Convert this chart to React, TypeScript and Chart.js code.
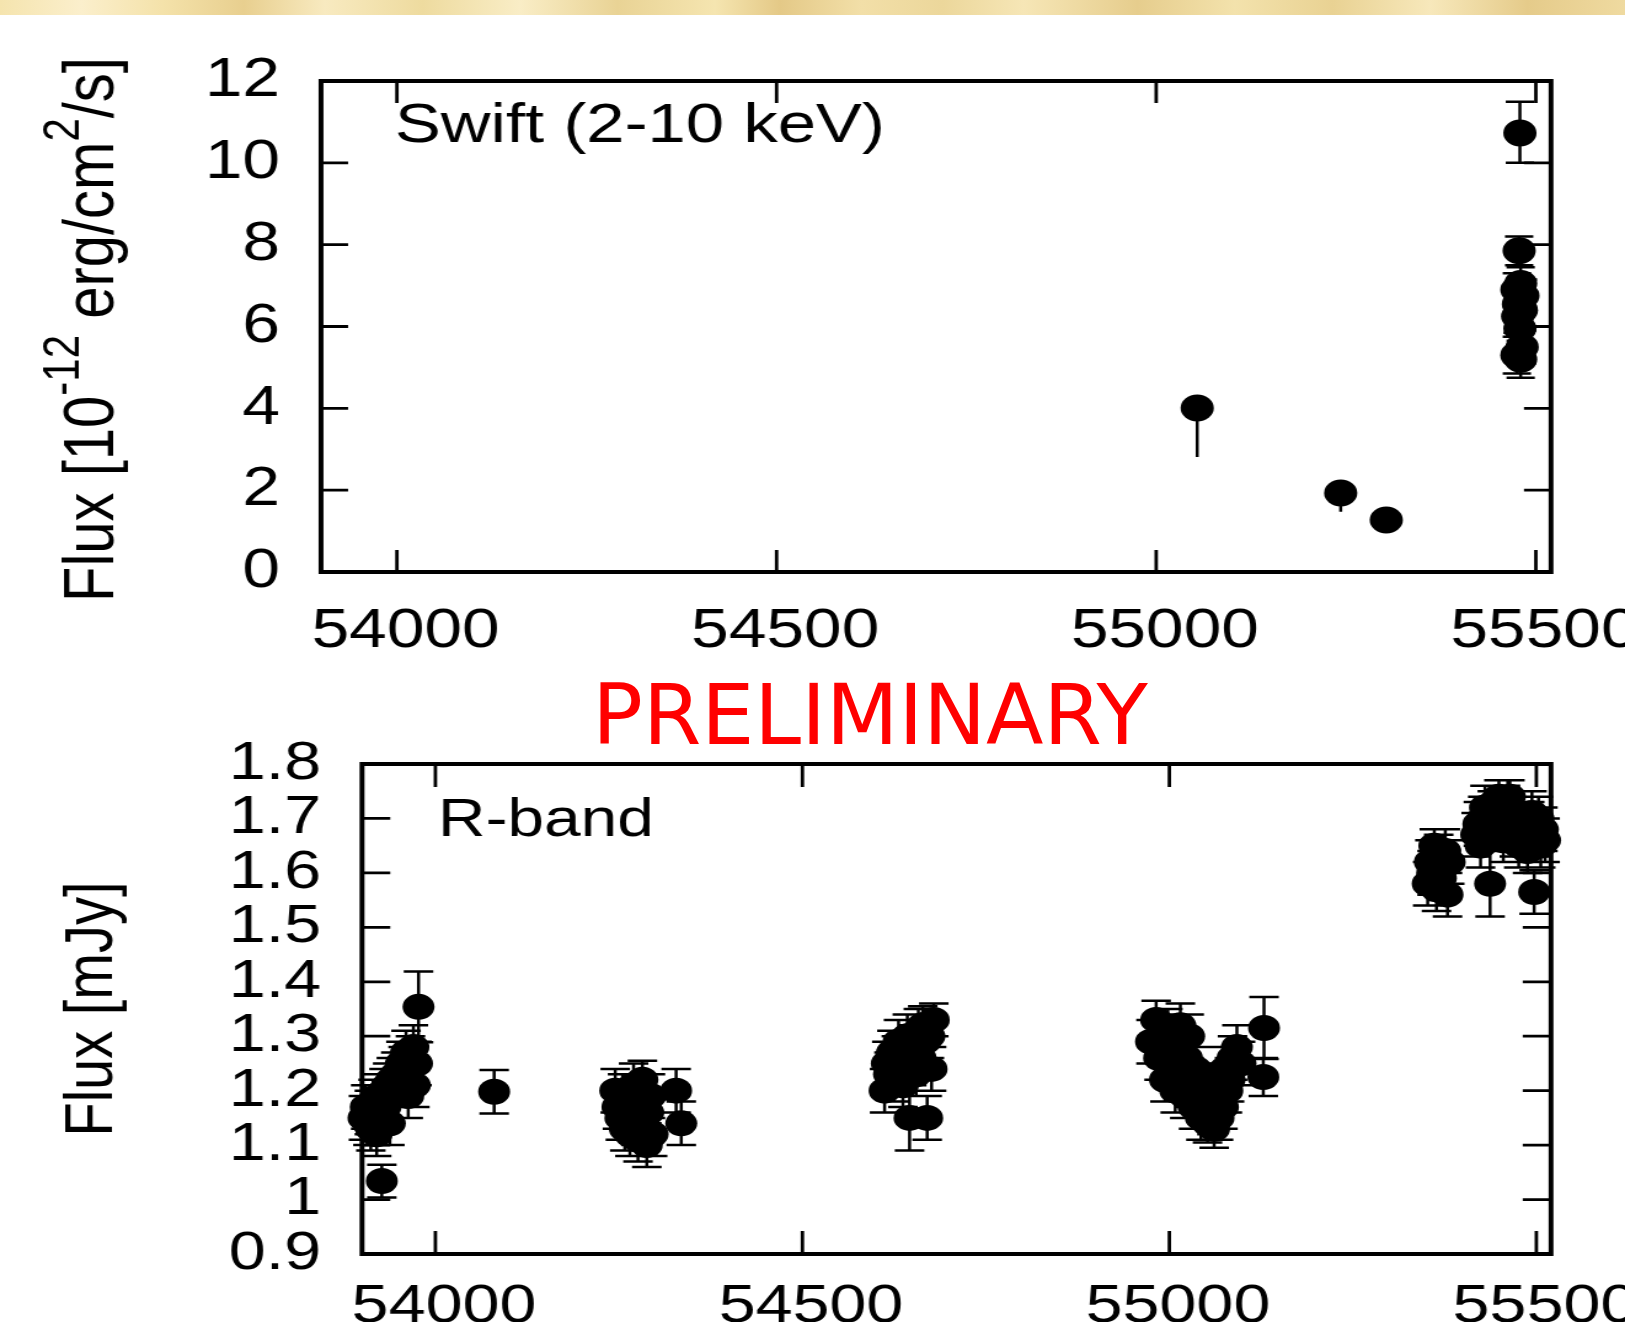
import React, { useEffect, useRef } from "react";
import { Chart, registerables } from "chart.js";

Chart.register(...registerables);

// ---------------- data ----------------
const xMin = 53900;
const xMax = 55520;
const xTickValues = [54000, 54500, 55000, 55500];
const xTickLabels = ["54000", "54500", "55000", "55500"];

const swiftYTickValues = [0, 2, 4, 6, 8, 10, 12];
const swiftYTickLabels = ["0", "2", "4", "6", "8", "10", "12"];

const rYTickValues = [0.9, 1, 1.1, 1.2, 1.3, 1.4, 1.5, 1.6, 1.7, 1.8];
const rYTickLabels = ["0.9", "1", "1.1", "1.2", "1.3", "1.4", "1.5", "1.6", "1.7", "1.8"];

// Swift (2-10 keV) flux, 1e-12 erg/cm2/s
const swiftMjd = [55054, 55243, 55303, 55479, 55478, 55480, 55475, 55483, 55477, 55481, 55476, 55479, 55482, 55475, 55480];
const swiftFlux = [4.01, 1.93, 1.27, 10.73, 7.85, 7.05, 6.9, 6.75, 6.55, 6.4, 6.25, 5.95, 5.5, 5.3, 5.2];
const swiftErrLo = [1.2, 0.46, 0, 0.73, 0.35, 0.4, 0.4, 0.4, 0.4, 0.4, 0.4, 0.4, 0.4, 0.45, 0.45];
const swiftErrHi = [0, 0, 0, 0.76, 0.35, 0.4, 0.4, 0.4, 0.4, 0.4, 0.4, 0.4, 0.4, 0.45, 0.45];

// R-band flux, mJy
const rMjd = [
  53902, 53905, 53908, 53910, 53912, 53915, 53918, 53920, 53922, 53925, 53927, 53930, 53932, 53935,
  53938, 53940, 53943, 53946, 53950, 53953, 53956, 53960, 53963, 53966, 53970, 53972, 53975, 53977,
  54080,
  54245, 54248, 54252, 54255, 54258, 54262, 54265, 54268, 54270, 54273, 54276, 54279, 54282, 54285,
  54288, 54290, 54293, 54296, 54328, 54335,
  54612, 54615, 54618, 54622, 54625, 54628, 54631, 54634, 54637, 54640, 54643, 54646, 54649, 54652,
  54655, 54658, 54661, 54664, 54667, 54670, 54673, 54676, 54679,
  54975, 54982, 54986, 54990, 54994, 54998, 55002, 55005, 55008, 55012, 55015, 55018, 55021, 55024,
  55027, 55030, 55033, 55036, 55040, 55043, 55046, 55049, 55052, 55055, 55058, 55061, 55064, 55067,
  55070, 55073, 55076, 55079, 55082, 55086, 55092, 55097, 55129, 55128,
  55352, 55355, 55358, 55361, 55364, 55367, 55370, 55373, 55376, 55379, 55382,
  55418, 55421, 55424, 55427, 55430, 55433, 55437, 55440, 55443, 55446, 55449, 55452, 55455, 55458,
  55461, 55464, 55467, 55470, 55473, 55476, 55479, 55482, 55485, 55488, 55491, 55494, 55497, 55500,
  55503, 55506, 55509, 55512,
];
const rFlux = [
  1.15, 1.17, 1.14, 1.16, 1.13, 1.18, 1.15, 1.12, 1.19, 1.16, 1.034, 1.2, 1.17, 1.21,
  1.14, 1.22, 1.19, 1.23, 1.21, 1.25, 1.24, 1.27, 1.19, 1.26, 1.28, 1.21, 1.25, 1.354,
  1.198,
  1.2, 1.17, 1.15, 1.19, 1.13, 1.16, 1.12, 1.18, 1.21, 1.14, 1.11, 1.17, 1.22, 1.13,
  1.1, 1.16, 1.19, 1.12, 1.2, 1.14,
  1.2, 1.25, 1.23, 1.27, 1.22, 1.26, 1.29, 1.24, 1.21, 1.27, 1.3, 1.15, 1.25, 1.28,
  1.23, 1.31, 1.26, 1.32, 1.29, 1.15, 1.3, 1.24, 1.33,
  1.29, 1.33, 1.26, 1.3, 1.22, 1.31, 1.27, 1.24, 1.2, 1.29, 1.32, 1.23, 1.19, 1.26,
  1.3, 1.21, 1.17, 1.24, 1.19, 1.15, 1.21, 1.17, 1.14, 1.19, 1.16, 1.13, 1.18, 1.15,
  1.21, 1.17, 1.24, 1.2, 1.22, 1.26, 1.28, 1.25, 1.315, 1.225,
  1.58, 1.62, 1.6, 1.65, 1.57, 1.63, 1.59, 1.61, 1.64, 1.56, 1.62,
  1.67, 1.69, 1.65, 1.7, 1.72, 1.68, 1.58, 1.71, 1.73, 1.69, 1.74, 1.7, 1.66, 1.72,
  1.73, 1.74, 1.71, 1.67, 1.69, 1.65, 1.7, 1.68, 1.66, 1.64, 1.69, 1.71, 1.565, 1.67,
  1.7, 1.65, 1.68, 1.66,
];
const rErr = [
  0.04, 0.04, 0.04, 0.04, 0.04, 0.04, 0.04, 0.04, 0.04, 0.04, 0.03, 0.04, 0.04, 0.04,
  0.04, 0.04, 0.04, 0.04, 0.04, 0.04, 0.04, 0.04, 0.04, 0.04, 0.04, 0.04, 0.04, 0.065,
  0.04,
  0.04, 0.04, 0.04, 0.04, 0.04, 0.04, 0.04, 0.04, 0.04, 0.04, 0.04, 0.04, 0.035, 0.04,
  0.04, 0.04, 0.04, 0.04, 0.04, 0.04,
  0.04, 0.04, 0.04, 0.04, 0.04, 0.04, 0.04, 0.04, 0.04, 0.04, 0.04, 0.06, 0.04, 0.04,
  0.04, 0.04, 0.04, 0.035, 0.04, 0.04, 0.04, 0.04, 0.03,
  0.04, 0.035, 0.04, 0.04, 0.04, 0.04, 0.04, 0.04, 0.04, 0.04, 0.04, 0.04, 0.04, 0.04,
  0.04, 0.04, 0.04, 0.04, 0.04, 0.04, 0.04, 0.04, 0.035, 0.04, 0.04, 0.035, 0.04, 0.04,
  0.04, 0.04, 0.04, 0.04, 0.04, 0.04, 0.04, 0.04, 0.057, 0.035,
  0.04, 0.04, 0.04, 0.03, 0.04, 0.04, 0.04, 0.04, 0.04, 0.04, 0.04,
  0.04, 0.04, 0.04, 0.04, 0.04, 0.04, 0.06, 0.04, 0.03, 0.04, 0.03, 0.04, 0.04, 0.04,
  0.04, 0.03, 0.04, 0.04, 0.04, 0.04, 0.04, 0.04, 0.04, 0.04, 0.04, 0.04, 0.04, 0.04,
  0.04, 0.04, 0.04, 0.04,
];

// ---------------- layout (backing canvas units, stretched horizontally by CSS) ----------------
const PAGE_W = 1625;
const BW = 1321;
const SX = PAGE_W / BW;
const FONT = "'Liberation Sans', Arial, Helvetica, sans-serif";

type Seg = { t: string; sup?: boolean };

function makePlugins(p: {
  mjd: number[]; val: number[]; lo: number[]; hi: number[];
  capHalf: number; tickLen: number;
  yTicks: number[]; panelLabel: string; panelX: number; panelY: number; panelSize: number;
  title: Seg[]; titleX: number; titleSize: number; titleShift: number;
}) {
  const errorBars = {
    id: "errorBars",
    beforeDatasetsDraw(chart: any) {
      const { ctx, scales } = chart;
      const x = scales.x, y = scales.y;
      ctx.save();
      ctx.strokeStyle = "#000";
      ctx.lineWidth = 2.5;
      ctx.beginPath();
      for (let i = 0; i < p.mjd.length; i++) {
        if (p.lo[i] === 0 && p.hi[i] === 0) continue;
        const px = x.getPixelForValue(p.mjd[i]);
        const yt = y.getPixelForValue(p.val[i] + p.hi[i]);
        const yb = y.getPixelForValue(p.val[i] - p.lo[i]);
        ctx.moveTo(px, yt);
        ctx.lineTo(px, yb);
        if (p.lo[i] > 0 && p.hi[i] > 0) {
          ctx.moveTo(px - p.capHalf, yt);
          ctx.lineTo(px + p.capHalf, yt);
          ctx.moveTo(px - p.capHalf, yb);
          ctx.lineTo(px + p.capHalf, yb);
        }
      }
      ctx.stroke();
      ctx.restore();
    },
  };
  const frame = {
    id: "frame",
    afterDraw(chart: any) {
      const { ctx, chartArea: a, scales } = chart;
      const x = scales.x, y = scales.y;
      ctx.save();
      ctx.strokeStyle = "#000";
      ctx.lineWidth = 2.8;
      ctx.beginPath();
      for (const v of xTickValues) {
        const px = x.getPixelForValue(v);
        ctx.moveTo(px, a.bottom);
        ctx.lineTo(px, a.bottom - p.tickLen);
        ctx.moveTo(px, a.top);
        ctx.lineTo(px, a.top + p.tickLen);
      }
      for (const v of p.yTicks) {
        const py = y.getPixelForValue(v);
        if (py > a.bottom - 2 || py < a.top + 2) continue;
        ctx.moveTo(a.left, py);
        ctx.lineTo(a.left + p.tickLen, py);
        ctx.moveTo(a.right, py);
        ctx.lineTo(a.right - p.tickLen, py);
      }
      ctx.stroke();
      ctx.lineWidth = 4;
      ctx.strokeRect(a.left, a.top, a.right - a.left, a.bottom - a.top);

      // panel label
      ctx.fillStyle = "#000";
      ctx.textAlign = "left";
      ctx.textBaseline = "alphabetic";
      ctx.font = `${p.panelSize}px ${FONT}`;
      ctx.fillText(p.panelLabel, p.panelX, p.panelY);

      // rotated axis title with superscripts
      const supSize = Math.round(p.titleSize * 0.72);
      const raise = p.titleSize * 0.48;
      let total = 0;
      const widths: number[] = [];
      for (const s of p.title) {
        ctx.font = `${s.sup ? supSize : p.titleSize}px ${FONT}`;
        const w = ctx.measureText(s.t).width;
        widths.push(w);
        total += w;
      }
      const cy = (a.top + a.bottom) / 2 + p.titleShift;
      ctx.translate(p.titleX, cy);
      ctx.rotate(-Math.PI / 2);
      let pos = -total / 2;
      p.title.forEach((s, i) => {
        ctx.font = `${s.sup ? supSize : p.titleSize}px ${FONT}`;
        ctx.fillText(s.t, pos, s.sup ? -raise : 0);
        pos += widths[i];
      });
      ctx.restore();
    },
  };
  return [errorBars, frame];
}

function makeConfig(o: {
  mjd: number[]; val: number[]; lo: number[]; hi: number[]; radius: number;
  yMin: number; yMax: number; yTicks: number[]; yLabels: string[];
  area: { left: number; right: number; top: number; bottom: number }; height: number;
  tickFont: number; xPad: number; yPad: number;
  plugins: any[];
}) {
  return {
    type: "scatter",
    data: {
      datasets: [
        {
          data: o.mjd.map((m, i) => ({ x: m, y: o.val[i] })),
          pointRadius: o.radius,
          pointHoverRadius: o.radius,
          pointBackgroundColor: "#000",
          pointBorderWidth: 0,
          clip: false,
        },
      ],
    },
    options: {
      animation: false,
      responsive: false,
      events: [],
      layout: { padding: { left: 0, top: o.area.top, right: BW - o.area.right, bottom: 0 } },
      plugins: { legend: { display: false }, tooltip: { enabled: false } },
      scales: {
        x: {
          type: "linear",
          position: "bottom",
          min: xMin,
          max: xMax,
          grid: { display: false, drawTicks: false },
          border: { display: false },
          afterBuildTicks: (s: any) => {
            s.ticks = xTickValues.map((v) => ({ value: v }));
          },
          afterFit: (s: any) => {
            s.height = o.height - o.area.bottom;
            s.paddingLeft = 0;
            s.paddingRight = 0;
          },
          ticks: {
            callback: (_v: any, i: number) => xTickLabels[i],
            font: { family: FONT, size: o.tickFont },
            color: "#000",
            padding: o.xPad,
            labelOffset: 7,
            autoSkip: false,
            maxRotation: 0,
            minRotation: 0,
          },
        },
        y: {
          type: "linear",
          position: "left",
          min: o.yMin,
          max: o.yMax,
          grid: { display: false, drawTicks: false },
          border: { display: false },
          afterBuildTicks: (s: any) => {
            s.ticks = o.yTicks.map((v) => ({ value: v }));
          },
          afterFit: (s: any) => {
            s.width = o.area.left;
            s.paddingTop = 0;
            s.paddingBottom = 0;
          },
          ticks: {
            callback: (_v: any, i: number) => o.yLabels[i],
            font: { family: FONT, size: o.tickFont },
            color: "#000",
            padding: o.yPad,
            autoSkip: false,
          },
        },
      },
    },
    plugins: o.plugins,
  };
}

const TOP_Y = 15;
const TOP_H = 645;
const BOT_Y = 660;
const BOT_H = 662;

export default function App() {
  const topRef = useRef<HTMLCanvasElement>(null);
  const botRef = useRef<HTMLCanvasElement>(null);

  useEffect(() => {
    const topArea = { left: 321 / SX, right: 1551 / SX, top: 81 - TOP_Y, bottom: 572 - TOP_Y };
    const botArea = { left: 362 / SX, right: 1551 / SX, top: 764 - BOT_Y, bottom: 1254 - BOT_Y };

    const topChart = new Chart(
      topRef.current as HTMLCanvasElement,
      makeConfig({
        mjd: swiftMjd, val: swiftFlux, lo: swiftErrLo, hi: swiftErrHi, radius: 13.5,
        yMin: 0, yMax: 12, yTicks: swiftYTickValues, yLabels: swiftYTickLabels,
        area: topArea, height: TOP_H, tickFont: 55, xPad: 27, yPad: topArea.left - 280 / SX,
        plugins: makePlugins({
          mjd: swiftMjd, val: swiftFlux, lo: swiftErrLo, hi: swiftErrHi,
          capHalf: 11.5, tickLen: 22, yTicks: swiftYTickValues,
          panelLabel: "Swift (2-10 keV)", panelX: 321, panelY: 142 - TOP_Y, panelSize: 56,
          title: [{ t: "Flux [10" }, { t: "-12", sup: true }, { t: " erg/cm" }, { t: "2", sup: true }, { t: "/s]" }],
          titleX: 92, titleSize: 58, titleShift: 3,
        }),
      }) as any
    );

    const botChart = new Chart(
      botRef.current as HTMLCanvasElement,
      makeConfig({
        mjd: rMjd, val: rFlux, lo: rErr, hi: rErr, radius: 13,
        yMin: 0.9, yMax: 1.8, yTicks: rYTickValues, yLabels: rYTickLabels,
        area: botArea, height: BOT_H, tickFont: 54, xPad: 21, yPad: botArea.left - 321 / SX,
        plugins: makePlugins({
          mjd: rMjd, val: rFlux, lo: rErr, hi: rErr,
          capHalf: 12, tickLen: 23, yTicks: rYTickValues,
          panelLabel: "R-band", panelX: 356, panelY: 836 - BOT_Y, panelSize: 53.5,
          title: [{ t: "Flux [mJy]" }],
          titleX: 91, titleSize: 56, titleShift: 0,
        }),
      }) as any
    );

    return () => {
      topChart.destroy();
      botChart.destroy();
    };
  }, []);

  const canvasStyle = (top: number, h: number): React.CSSProperties => ({
    position: "absolute",
    left: 0,
    top,
    width: PAGE_W,
    height: h,
    display: "block",
  });

  return (
    <div
      style={{
        position: "absolute",
        left: 0,
        top: 0,
        width: PAGE_W,
        height: 1322,
        overflow: "hidden",
        background: "#fff",
      }}
    >
      <canvas ref={topRef} width={BW} height={TOP_H} style={canvasStyle(TOP_Y, TOP_H)} />
      <canvas ref={botRef} width={BW} height={BOT_H} style={canvasStyle(BOT_Y, BOT_H)} />
      <div
        style={{
          position: "absolute",
          left: 0,
          top: 0,
          width: PAGE_W,
          height: 15,
          background:
            "linear-gradient(90deg, #f5e4ae 0%, #fbefcc 5%, #f4e2aa 10%, #e8cf8f 15%, #f8eac0 20%, #eedb9f 26%, #f9edc6 32%, #e9d395 38%, #f5e5b0 44%, #e4c987 48%, #f2dfa8 53%, #ecd79b 58%, #f6e6b6 63%, #e6cd8d 70%, #f3e2ac 76%, #e9d293 82%, #f7e8bb 88%, #e5cb8a 94%, #efdaa0 100%)",
        }}
      />
      <div
        style={{
          position: "absolute",
          left: 870,
          top: 673,
          transform: "translateX(-50%)",
          fontFamily: "'DejaVu Sans', sans-serif",
          fontSize: 84,
          lineHeight: 1,
          color: "#ff0000",
          whiteSpace: "nowrap",
        }}
      >
        PRELIMINARY
      </div>
    </div>
  );
}
